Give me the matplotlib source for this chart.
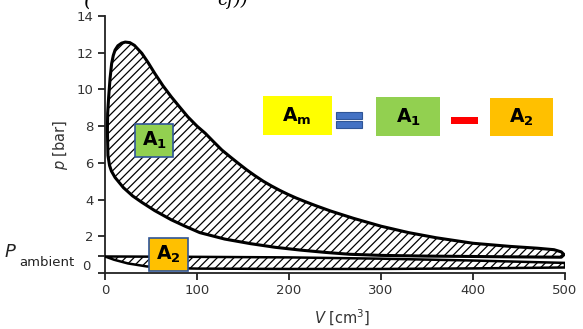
import matplotlib
matplotlib.use("Agg")
import matplotlib.pyplot as plt
from matplotlib.patches import Polygon, Rectangle

plt.rcParams['font.family'] = ['DejaVu Sans']
plt.rcParams['mathtext.fontset'] = 'dejavusans'
plt.rcParams['hatch.linewidth'] = 0.9
plt.rcParams['hatch.color'] = 'black'

# ---- data ----
# A1 loop: left wall + expansion (upper) curve, left -> right
v_exp = [3.2, 2.6, 2.9, 4.0, 5.5, 7.2, 9, 11, 14, 18, 22, 27, 32, 40, 47, 54, 63, 72, 81, 90,
         100, 109, 118, 127, 136, 145, 154, 163, 172, 181, 190, 199, 208, 217, 230, 245, 270,
         300, 330, 360, 400, 440, 470, 488, 496, 499]
p_exp = [6.4, 7.8, 8.7, 9.6, 10.6, 11.4, 11.85, 12.15, 12.38, 12.52, 12.58, 12.55, 12.4, 11.97, 11.45, 10.88, 10.2, 9.6, 9.05, 8.51,
         8.0, 7.61, 7.15, 6.70, 6.33, 5.97, 5.62, 5.3, 5.0, 4.74, 4.5, 4.28, 4.08, 3.9, 3.65, 3.38, 2.98,
         2.55, 2.2, 1.92, 1.62, 1.45, 1.35, 1.27, 1.15, 1.0]
# A1 loop: compression (lower) curve, right -> left
v_cmp = [496, 470, 440, 400, 350, 300, 266, 240, 212, 185, 158, 130, 103, 87, 72, 54, 40, 30, 20, 11, 7, 5.0]
p_cmp = [0.86, 0.87, 0.88, 0.9, 0.92, 0.96, 1.02, 1.12, 1.25, 1.4, 1.6, 1.85, 2.2, 2.55, 2.9, 3.4, 3.85, 4.2, 4.65, 5.2, 5.55, 5.85]
# A2 pumping loop: exhaust (upper) line, left -> right
v_exh = [0, 100, 200, 300, 400, 500]
p_exh = [0.9, 0.88, 0.85, 0.78, 0.68, 0.55]
# A2 pumping loop: intake (lower) line, right -> left
v_int = [500, 400, 300, 200, 100, 70, 45, 25, 10, 0]
p_int = [0.3, 0.25, 0.22, 0.22, 0.24, 0.27, 0.36, 0.52, 0.72, 0.9]

x_ticks = [0, 100, 200, 300, 400, 500]
y_ticks = [2, 4, 6, 8, 10, 12, 14]
p_ambient = 0.95

W, H = 583, 329
fig = plt.figure(figsize=(W / 100, H / 100), dpi=100)

def fx(x):
    return x / W

def fy(y):
    return 1 - y / H

ax = fig.add_axes([105 / W, 1 - 273 / H, 460 / W, 257 / H])
ax.set_xlim(0, 500)
ax.set_ylim(0, 14)
for s in ['top', 'right']:
    ax.spines[s].set_visible(False)
for s in ['left', 'bottom']:
    ax.spines[s].set_linewidth(1.3)
    ax.spines[s].set_color('#222222')

# A1 region
a1 = list(zip(v_exp, p_exp)) + list(zip(v_cmp, p_cmp))
ax.add_patch(Polygon(a1, closed=True, facecolor='white', edgecolor='black',
                     hatch='////', linewidth=0, zorder=2))
ax.add_patch(Polygon(a1, closed=True, fill=False, edgecolor='black',
                     linewidth=2.2, joinstyle='round', zorder=3))
# A2 region
a2 = list(zip(v_exh, p_exh)) + list(zip(v_int, p_int))
ax.add_patch(Polygon(a2, closed=True, facecolor='white', edgecolor='black',
                     hatch='////', linewidth=0, zorder=2))
ax.add_patch(Polygon(a2, closed=True, fill=False, edgecolor='black',
                     linewidth=1.8, joinstyle='round', zorder=3))

ax.set_xticks(x_ticks)
ax.set_xticklabels([str(t) for t in x_ticks])
ax.set_yticks([0, p_ambient] + y_ticks)
ax.set_yticklabels(['', ''] + [str(t) for t in y_ticks])
ax.tick_params(direction='out', length=5, width=1.3, color='#222222',
               labelsize=9.5, labelcolor='#333333', pad=3)

# "0" label on the y axis, drawn slightly above the axis as in the reference
fig.text(fx(86), fy(266), '0', fontsize=9.5, color='#333333', ha='center', va='center')
# P_ambient label
fig.text(fx(5), fy(252), 'P', fontsize=13, style='italic', color='#222222', ha='left', va='center')
fig.text(fx(19), fy(262), 'ambient', fontsize=9.5, color='#222222', ha='left', va='center')

# axis labels
fig.text(fx(60), fy(145), r'$p$ [bar]', fontsize=10.5, color='#333333', rotation=90,
         ha='center', va='center')
fig.text(fx(342), fy(318), r'$V$ [cm$^3$]', fontsize=10.5, color='#333333',
         ha='center', va='center')

# formula cut off at the very top of the picture
fig.text(fx(83), fy(6), '(', fontsize=15, family='DejaVu Serif', style='italic', ha='left', va='baseline')
fig.text(fx(217), fy(5), 'cf))', fontsize=13, family='DejaVu Serif', style='italic', ha='left', va='baseline')

def box(x0, y0, x1, y1, color, edge=None, lw=0):
    r = Rectangle((fx(x0), fy(y1)), (x1 - x0) / W, (y1 - y0) / H, transform=fig.transFigure,
                  facecolor=color, edgecolor=edge if edge else 'none', linewidth=lw, zorder=5)
    fig.add_artist(r)

def label(x, y, s, size=13.5):
    fig.text(fx(x), fy(y), s, fontsize=size, ha='center', va='center', zorder=6)

# A1 / A2 labels in the plot
box(135, 124, 173, 157, '#92D050', '#2F5597', 1.2)
label(154, 140, r'$\mathbf{A_1}$')
box(149, 238, 188, 271, '#FFC000', '#2F5597', 1.2)
label(168, 254, r'$\mathbf{A_2}$')

# equation Am = A1 - A2
box(263, 96, 332, 135, '#FFFF00')
label(297, 116, r'$\mathbf{A_m}$')
box(336, 112, 362, 119, '#4472C4', '#2F5597', 0.8)
box(336, 121, 362, 128, '#4472C4', '#2F5597', 0.8)
box(376, 97, 440, 136, '#92D050')
label(408, 117, r'$\mathbf{A_1}$')
box(451, 117, 478, 124, '#FF0000')
box(490, 98, 553, 136, '#FFC000')
label(521, 117, r'$\mathbf{A_2}$')

fig.savefig('out.png', dpi=100)
